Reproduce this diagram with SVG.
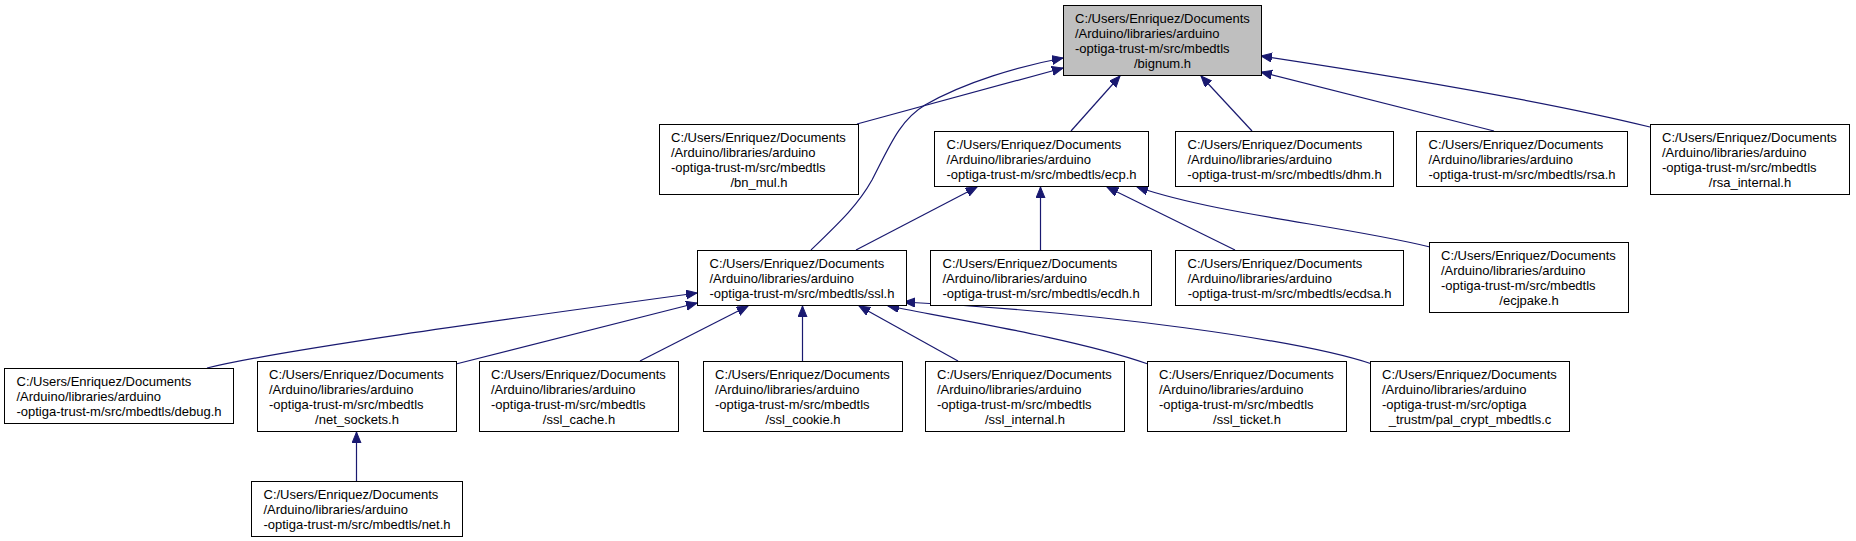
<svg xmlns="http://www.w3.org/2000/svg" width="1856" height="541" viewBox="0 0 1856 541">
<defs>
<marker id="ah" markerUnits="userSpaceOnUse" markerWidth="12" markerHeight="10" refX="11" refY="4.5" orient="auto">
<path d="M0,0 L11,4.5 L0,9 z" fill="#191970" stroke="#191970" stroke-width="1"/>
</marker>
<style>
.n rect{fill:#ffffff;stroke:#000000;stroke-width:1}
.n.cur rect{fill:#bfbfbf}
.n text{font-family:"Liberation Sans",Arial,sans-serif;font-size:13px;fill:#000000}
.n text.c{text-anchor:middle}
#edges path{fill:none;stroke:#191970;stroke-width:1.2;marker-end:url(#ah)}
</style>
</defs>
<rect x="0" y="0" width="1856" height="541" fill="#ffffff"/>
<g id="edges">
<path d="M857,124 L1063,68"/>
<path d="M811,250 C840,222 858,205 872,180 C890,145 900,120 925,105 C965,82 1020,66 1063,58"/>
<path d="M1071,131 L1120,76"/>
<path d="M1252,131 L1201,76"/>
<path d="M1494,131 L1261,72"/>
<path d="M1650,127 C1560,105 1420,80 1261,56"/>
<path d="M856,250 L977,187"/>
<path d="M1040.5,250 L1040.5,187"/>
<path d="M1235,250 L1107,187"/>
<path d="M1430,247 C1340,225 1220,215 1137,187"/>
<path d="M207,368 C280,350 500,320 697,293"/>
<path d="M456,364 L697,303"/>
<path d="M640,361 L748,306"/>
<path d="M802.5,361 L802.5,306"/>
<path d="M958,361 L859,306"/>
<path d="M1148,364 C1080,340 960,320 888,306"/>
<path d="M1372,364 C1300,340 1100,312 904,302"/>
<path d="M356.5,481 L356.5,432"/>
</g>
<g id="bignum" class="n cur"><rect x="1063.5" y="5.5" width="198" height="70"/>
<text x="1075" y="23">C:/Users/Enriquez/Documents</text><text x="1075" y="38">/Arduino/libraries/arduino</text><text x="1075" y="53">-optiga-trust-m/src/mbedtls</text><text class="c" x="1162.5" y="68">/bignum.h</text></g>
<g id="bn_mul" class="n"><rect x="659.5" y="124.5" width="199" height="70"/>
<text x="671" y="142">C:/Users/Enriquez/Documents</text><text x="671" y="157">/Arduino/libraries/arduino</text><text x="671" y="172">-optiga-trust-m/src/mbedtls</text><text class="c" x="759" y="187">/bn_mul.h</text></g>
<g id="ecp" class="n"><rect x="934.5" y="131.5" width="214" height="55"/>
<text x="946.5" y="148.5">C:/Users/Enriquez/Documents</text><text x="946.5" y="163.5">/Arduino/libraries/arduino</text><text class="c" x="1041.5" y="178.5">-optiga-trust-m/src/mbedtls/ecp.h</text></g>
<g id="dhm" class="n"><rect x="1175.5" y="131.5" width="218" height="55"/>
<text x="1187.5" y="148.5">C:/Users/Enriquez/Documents</text><text x="1187.5" y="163.5">/Arduino/libraries/arduino</text><text class="c" x="1284.5" y="178.5">-optiga-trust-m/src/mbedtls/dhm.h</text></g>
<g id="rsa" class="n"><rect x="1416.5" y="131.5" width="211" height="55"/>
<text x="1428.5" y="148.5">C:/Users/Enriquez/Documents</text><text x="1428.5" y="163.5">/Arduino/libraries/arduino</text><text class="c" x="1522" y="178.5">-optiga-trust-m/src/mbedtls/rsa.h</text></g>
<g id="rsa_internal" class="n"><rect x="1650.5" y="124.5" width="199" height="70"/>
<text x="1662" y="142">C:/Users/Enriquez/Documents</text><text x="1662" y="157">/Arduino/libraries/arduino</text><text x="1662" y="172">-optiga-trust-m/src/mbedtls</text><text class="c" x="1750" y="187">/rsa_internal.h</text></g>
<g id="ssl" class="n"><rect x="697.5" y="250.5" width="209" height="55"/>
<text x="709.5" y="267.5">C:/Users/Enriquez/Documents</text><text x="709.5" y="282.5">/Arduino/libraries/arduino</text><text class="c" x="802" y="297.5">-optiga-trust-m/src/mbedtls/ssl.h</text></g>
<g id="ecdh" class="n"><rect x="930.5" y="250.5" width="221" height="55"/>
<text x="942.5" y="267.5">C:/Users/Enriquez/Documents</text><text x="942.5" y="282.5">/Arduino/libraries/arduino</text><text class="c" x="1041" y="297.5">-optiga-trust-m/src/mbedtls/ecdh.h</text></g>
<g id="ecdsa" class="n"><rect x="1175.5" y="250.5" width="228" height="55"/>
<text x="1187.5" y="267.5">C:/Users/Enriquez/Documents</text><text x="1187.5" y="282.5">/Arduino/libraries/arduino</text><text class="c" x="1289.5" y="297.5">-optiga-trust-m/src/mbedtls/ecdsa.h</text></g>
<g id="ecjpake" class="n"><rect x="1429.5" y="242.5" width="199" height="70"/>
<text x="1441" y="260">C:/Users/Enriquez/Documents</text><text x="1441" y="275">/Arduino/libraries/arduino</text><text x="1441" y="290">-optiga-trust-m/src/mbedtls</text><text class="c" x="1529" y="305">/ecjpake.h</text></g>
<g id="debug" class="n"><rect x="4.5" y="368.5" width="229" height="55"/>
<text x="16.5" y="385.5">C:/Users/Enriquez/Documents</text><text x="16.5" y="400.5">/Arduino/libraries/arduino</text><text class="c" x="119" y="415.5">-optiga-trust-m/src/mbedtls/debug.h</text></g>
<g id="net_sockets" class="n"><rect x="257.5" y="361.5" width="199" height="70"/>
<text x="269" y="379">C:/Users/Enriquez/Documents</text><text x="269" y="394">/Arduino/libraries/arduino</text><text x="269" y="409">-optiga-trust-m/src/mbedtls</text><text class="c" x="357" y="424">/net_sockets.h</text></g>
<g id="ssl_cache" class="n"><rect x="479.5" y="361.5" width="199" height="70"/>
<text x="491" y="379">C:/Users/Enriquez/Documents</text><text x="491" y="394">/Arduino/libraries/arduino</text><text x="491" y="409">-optiga-trust-m/src/mbedtls</text><text class="c" x="579" y="424">/ssl_cache.h</text></g>
<g id="ssl_cookie" class="n"><rect x="703.5" y="361.5" width="199" height="70"/>
<text x="715" y="379">C:/Users/Enriquez/Documents</text><text x="715" y="394">/Arduino/libraries/arduino</text><text x="715" y="409">-optiga-trust-m/src/mbedtls</text><text class="c" x="803" y="424">/ssl_cookie.h</text></g>
<g id="ssl_internal" class="n"><rect x="925.5" y="361.5" width="199" height="70"/>
<text x="937" y="379">C:/Users/Enriquez/Documents</text><text x="937" y="394">/Arduino/libraries/arduino</text><text x="937" y="409">-optiga-trust-m/src/mbedtls</text><text class="c" x="1025" y="424">/ssl_internal.h</text></g>
<g id="ssl_ticket" class="n"><rect x="1147.5" y="361.5" width="199" height="70"/>
<text x="1159" y="379">C:/Users/Enriquez/Documents</text><text x="1159" y="394">/Arduino/libraries/arduino</text><text x="1159" y="409">-optiga-trust-m/src/mbedtls</text><text class="c" x="1247" y="424">/ssl_ticket.h</text></g>
<g id="pal_crypt" class="n"><rect x="1370.5" y="361.5" width="199" height="70"/>
<text x="1382" y="379">C:/Users/Enriquez/Documents</text><text x="1382" y="394">/Arduino/libraries/arduino</text><text x="1382" y="409">-optiga-trust-m/src/optiga</text><text class="c" x="1470" y="424">_trustm/pal_crypt_mbedtls.c</text></g>
<g id="net" class="n"><rect x="251.5" y="481.5" width="211" height="55"/>
<text x="263.5" y="498.5">C:/Users/Enriquez/Documents</text><text x="263.5" y="513.5">/Arduino/libraries/arduino</text><text class="c" x="357" y="528.5">-optiga-trust-m/src/mbedtls/net.h</text></g>
</svg>
